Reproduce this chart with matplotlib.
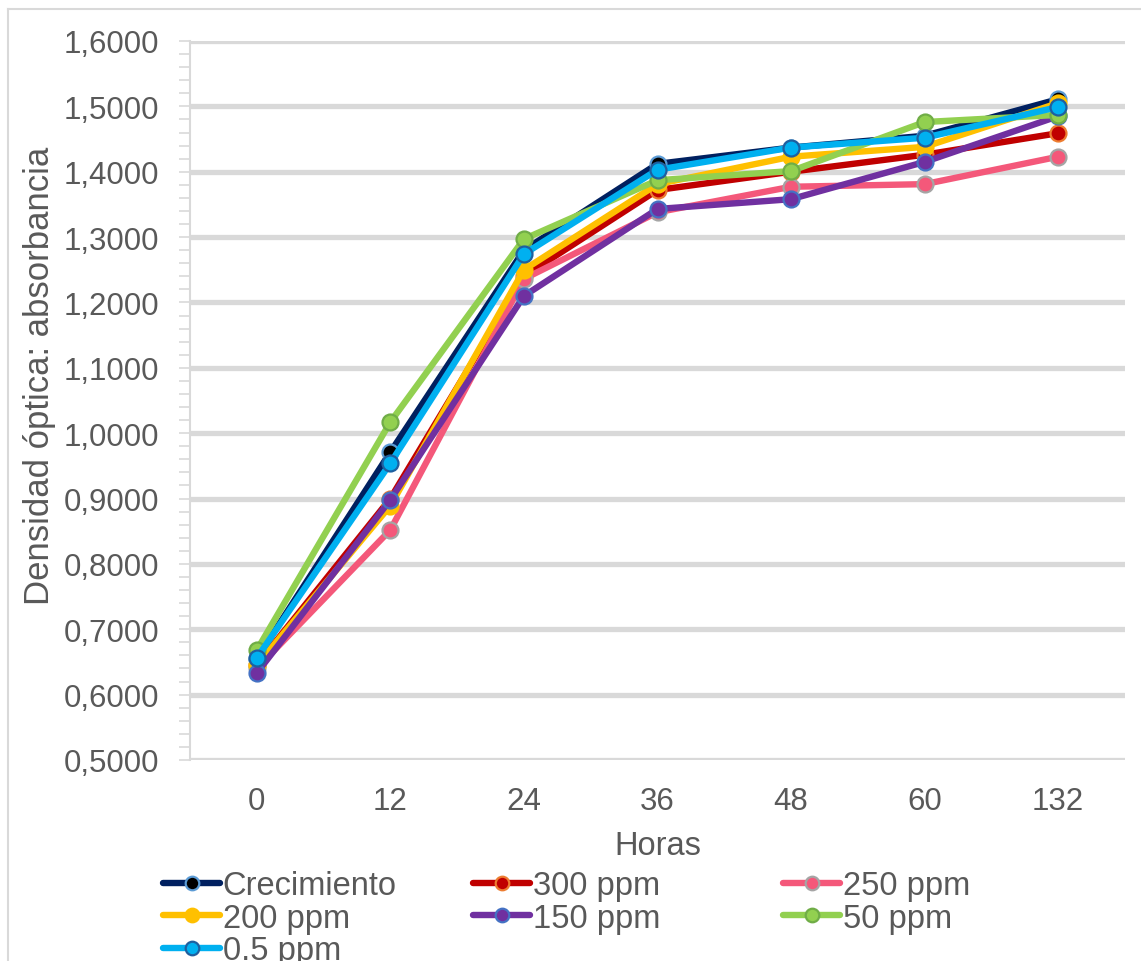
import matplotlib
matplotlib.use("Agg")
import matplotlib.pyplot as plt
from matplotlib.lines import Line2D
from matplotlib.ticker import MultipleLocator, FuncFormatter

plt.rcParams['font.family'] = ['Liberation Sans', 'DejaVu Sans']

hours = ["0", "12", "24", "36", "48", "60", "132"]

crecimiento = [0.655, 0.971, 1.280, 1.412, 1.437, 1.455, 1.511]
ppm300 = [0.645, 0.900, 1.240, 1.372, 1.400, 1.426, 1.459]
ppm250 = [0.640, 0.852, 1.236, 1.338, 1.377, 1.381, 1.423]
ppm200 = [0.645, 0.889, 1.250, 1.381, 1.423, 1.438, 1.505]
ppm150 = [0.633, 0.898, 1.210, 1.343, 1.358, 1.415, 1.485]
ppm50 = [0.668, 1.017, 1.297, 1.387, 1.401, 1.476, 1.487]
ppm05 = [0.656, 0.954, 1.274, 1.403, 1.437, 1.452, 1.499]

series_names = ["Crecimiento", "300 ppm", "250 ppm", "200 ppm", "150 ppm", "50 ppm", "0.5 ppm"]
series_vals = [crecimiento, ppm300, ppm250, ppm200, ppm150, ppm50, ppm05]
line_cols = ["#002060", "#C00000", "#F4587A", "#FFC000", "#7030A0", "#92D050", "#00B0F0"]
face_cols = ["#000000", "#C00000", "#F4587A", "#FFC000", "#7030A0", "#92D050", "#00B0F0"]
edge_cols = ["#5B9BD5", "#ED7D31", "#A5A5A5", "#FFC000", "#4472C4", "#70AD47", "#1F5F9F"]

W, H = 1141, 962
fig = plt.figure(figsize=(W / 100, H / 100), dpi=100)
ax = fig.add_axes([190 / W, 1 - 761 / H, (1125 - 190) / W, (761 - 42) / H])

x = list(range(len(hours)))
handles = []
for name, vals, lc, fc, ec in zip(series_names, series_vals, line_cols, face_cols, edge_cols):
    h, = ax.plot(x, vals, color=lc, lw=4.6, marker='o', ms=11.5, mfc=fc, mec=ec,
                 mew=1.6, solid_capstyle='round', solid_joinstyle='round', label=name,
                 zorder=3)
    handles.append(h)

ax.set_xlim(-0.5, len(hours) - 0.5)
ax.set_ylim(0.5, 1.6)
ax.set_xticks(x)
ax.set_xticklabels(hours)
ax.yaxis.set_major_locator(MultipleLocator(0.1))
ax.yaxis.set_minor_locator(MultipleLocator(0.02))
ax.yaxis.set_major_formatter(FuncFormatter(lambda v, p: f"{v:.4f}".replace('.', ',')))

ax.grid(axis='y', which='major', color='#D9D9D9', lw=3.8, zorder=0)
ax.set_axisbelow(True)
for s in ['top', 'right', 'bottom']:
    ax.spines[s].set_visible(False)
ax.spines['left'].set_color('#D9D9D9')
ax.spines['left'].set_linewidth(1.5)

txt = '#595959'
ax.tick_params(axis='y', which='both', colors='#D9D9D9', labelcolor=txt, labelsize=22.5,
               direction='out', length=8, width=1.2, pad=14)
ax.tick_params(axis='x', length=0, labelcolor=txt, labelsize=22.5, pad=19)

ax.set_xlabel("Horas", fontsize=23.5, color=txt, labelpad=10)
ax.set_ylabel("Densidad óptica: absorbancia", fontsize=25, color=txt)
ax.yaxis.set_label_coords(-0.143, 0.535)

# border of the chart area
fig.add_artist(Line2D([8 / W, 8 / W], [0, 1 - 10 / H], transform=fig.transFigure,
                      color='#D9D9D9', lw=1.5))
fig.add_artist(Line2D([8 / W, 1], [1 - 10 / H, 1 - 10 / H], transform=fig.transFigure,
                      color='#D9D9D9', lw=1.5))

# legend: three equal-width columns, row-wise order
cols = [[0, 3, 6], [1, 4], [2, 5]]
col_x = [163, 473, 783]
for cx, idxs in zip(col_x, cols):
    leg = fig.legend([handles[i] for i in idxs], [series_names[i] for i in idxs],
                     loc='upper left', bbox_to_anchor=(cx / W, 1 - 871 / H),
                     frameon=False, fontsize=23.5, handlelength=1.75, handletextpad=0.08,
                     labelspacing=0.05, borderpad=0, borderaxespad=0, labelcolor=txt,
                     markerscale=0.85)

fig.savefig("out.png", dpi=100)
